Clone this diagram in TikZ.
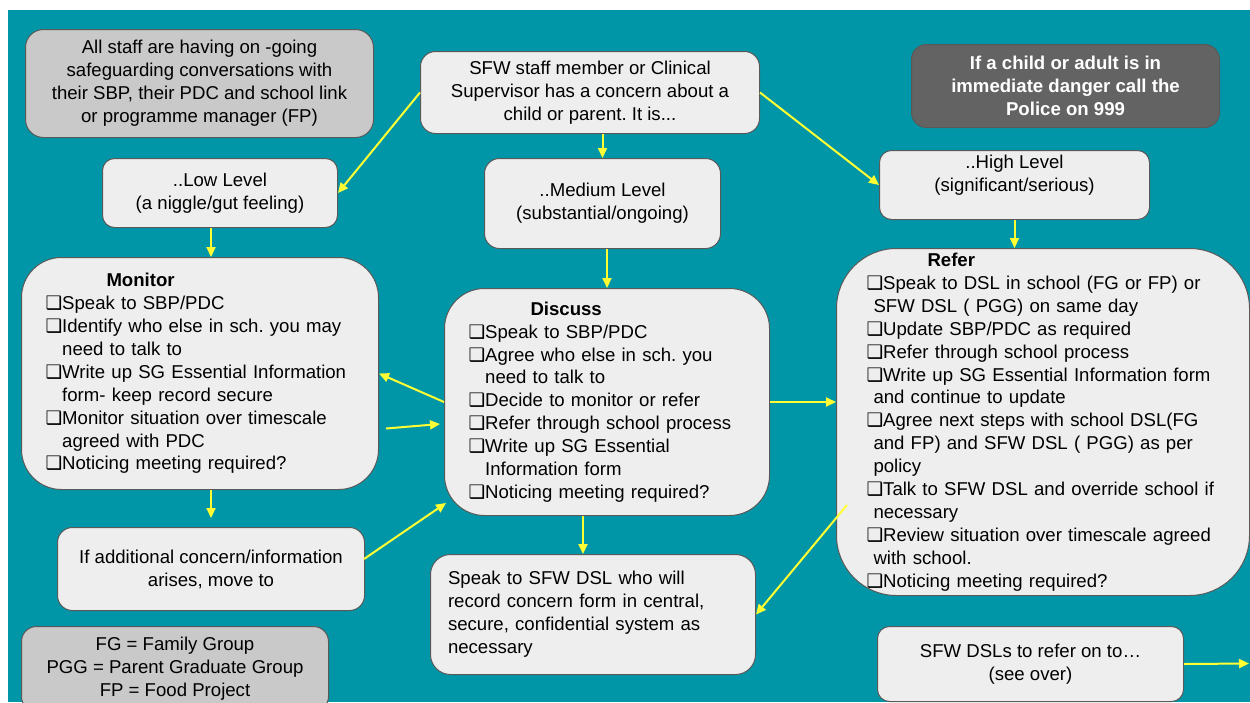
\documentclass[tikz,border=0pt]{standalone}
\usepackage{fontspec}
\setmainfont{Liberation Sans}
\newfontfamily\dingfont{DejaVu Sans}
\usepackage{tikz}
\usetikzlibrary{positioning,arrows.meta}
\frenchspacing

\definecolor{bgteal}{RGB}{0,150,167}
\definecolor{boxfill}{RGB}{238,238,238}
\definecolor{keyfill}{RGB}{201,201,201}
\definecolor{alertfill}{RGB}{99,99,99}
\definecolor{edgeline}{RGB}{89,89,89}
\definecolor{arrowyellow}{RGB}{255,255,51}

\newcommand\boxfont{\fontsize{18.6pt}{22.9pt}\selectfont}
\newcommand\bx{{\dingfont ❑}}
\newcommand\bitem[1]{\mbox{\bx#1}}
\newcommand\bmore[2][\phantom{\bx}]{\mbox{#1#2}}

\begin{document}
\begin{tikzpicture}[
		x=1pt, y=-1pt
		,font=\boxfont
		,box/.style={draw=edgeline, line width=1pt, fill=boxfill, rounded corners=#1, align=center, anchor=north west, inner sep=0pt}
		,box/.default=15pt
		,list/.style={box=#1, align=left}
		,list/.default=40pt
		,arr/.style={draw=arrowyellow, line width=2pt, -{Triangle[length=10pt,width=9pt]}}
	]
		\useasboundingbox (0,0) rectangle (1250,702);
		\clip (0,0) rectangle (1250,702);
		\fill[white] (0,0) rectangle (1250,702);
		\fill[bgteal] (8,10) rectangle (1250,702);

		\node[box=18pt, fill=keyfill, minimum width=348, minimum height=108] (staff) at (25,29) {All staff are having on -going\\safeguarding conversations with\\their SBP, their PDC and school link\\or programme manager (FP)};
		\node[box, minimum width=339, minimum height=82] (top) at (420,51) {SFW staff member or Clinical\\Supervisor has a concern about a\\child or parent. It is...};
		\node[box, fill=alertfill, text=white, font=\boxfont\bfseries, minimum width=308, minimum height=83] (police) at (911,44) {If a child or adult is in\\immediate danger call the\\Police on 999};

		\node[box=12pt, minimum width=235, minimum height=69] (low) at (102,158) {..Low Level\\(a niggle/gut feeling)};
		\node[box, minimum width=236, minimum height=90] (med) at (484,158) {..Medium Level\\(substantial/ongoing)};
		\node[box=12pt, minimum width=270, minimum height=69] (high) at (879,150) {..High Level\\(significant/serious)\\\mbox{}};

		\node[list, text width=309, inner xsep=24, minimum height=232] (mon) at (21,257) {
			\hspace*{61pt}\textbf{Monitor}\\
			\bitem{Speak to SBP/PDC}\\
			\bitem{Identify who else in sch. you may}\\
			\bmore{need to talk to}\\
			\bitem{Write up SG Essential Information}\\
			\bmore{form- keep record secure}\\
			\bitem{Monitor situation over timescale}\\
			\bmore{agreed with PDC}\\
			\bitem{Noticing meeting required?}};
		\node[list, text width=277, inner xsep=24, minimum height=227] (disc) at (444,288) {
			\hspace*{62pt}\textbf{Discuss}\\
			\bitem{Speak to SBP/PDC}\\
			\bitem{Agree who else in sch. you}\\
			\bmore{need to talk to}\\
			\bitem{Decide to monitor or refer}\\
			\bitem{Refer through school process}\\
			\bitem{Write up SG Essential}\\
			\bmore{Information form}\\
			\bitem{Noticing meeting required?}};
		\node[list=60pt, text width=353, inner xsep=30, minimum height=347] (ref) at (836,248) {
			\hspace*{61pt}\textbf{Refer}\\
			\bitem{Speak to DSL in school (FG or FP) or}\\
			\bmore[\hspace*{7pt}]{SFW DSL ( PGG) on same day}\\
			\bitem{Update SBP/PDC as required}\\
			\bitem{Refer through school process}\\
			\bitem{Write up SG Essential Information form}\\
			\bmore[\hspace*{7pt}]{and continue to update}\\
			\bitem{Agree next steps with school DSL(FG}\\
			\bmore[\hspace*{7pt}]{and FP) and SFW DSL ( PGG) as per}\\
			\bmore[\hspace*{7pt}]{policy}\\
			\bitem{Talk to SFW DSL and override school if}\\
			\bmore[\hspace*{7pt}]{necessary}\\
			\bitem{Review situation over timescale agreed}\\
			\bmore[\hspace*{7pt}]{with school.}\\
			\bitem{Noticing meeting required?}};

		\node[box, minimum width=307, minimum height=83] (more) at (57,527) {If additional concern/information\\arises, move to};
		\node[box, fill=keyfill, minimum width=307, minimum height=85] (key) at (21,626) {FG = Family Group\\PGG = Parent Graduate Group\\FP = Food Project};
		\node[list=20pt, text width=290, inner xsep=17.5, minimum height=120] (dsl) at (430,554) {Speak to SFW DSL who will\\record concern form in central,\\secure, confidential system as\\necessary};
		\node[box=12pt, minimum width=306, minimum height=75] (onward) at (877,626) {SFW DSLs to refer on to…\\(see over)};
		\coordinate (over) at (1249,663.5);

		\draw[arr] (top.west) -- (low.east);
		\draw[arr] (top.south -| med.north) -- (med.north);
		\draw[arr] (top.east) -- (high.west);
		\draw[arr] ([shift={(-9,0)}]low.south) -- ([shift={(-9,0)}]low.south |- mon.north);
		\draw[arr] (med.south -| disc.north) -- (disc.north);
		\draw[arr] (high.south) -- (high.south |- ref.north);
		\draw[arr] (disc.west) -- (mon.east);
		\draw[arr] ([shift={(7,55)}]mon.east) -- ([shift={(-4,22)}]disc.west);
		\draw[arr] (mon.south -| more.north) -- ([shift={(0,-9)}]more.north);
		\draw[arr] ([shift={(-1,-10)}]more.east) -- ([shift={(2,-13)}]disc.south west);
		\draw[arr] (disc.east) -- (disc.east -| ref.west);
		\draw[arr] ([shift={(-24,0)}]disc.south) -- ([shift={(-24,0)}]disc.south |- dsl.north);
		\draw[arr] ([shift={(11,83)}]ref.west) -- (dsl.east);
		\draw[arr] (onward.east) -- (over);
	\end{tikzpicture}
\end{document}
